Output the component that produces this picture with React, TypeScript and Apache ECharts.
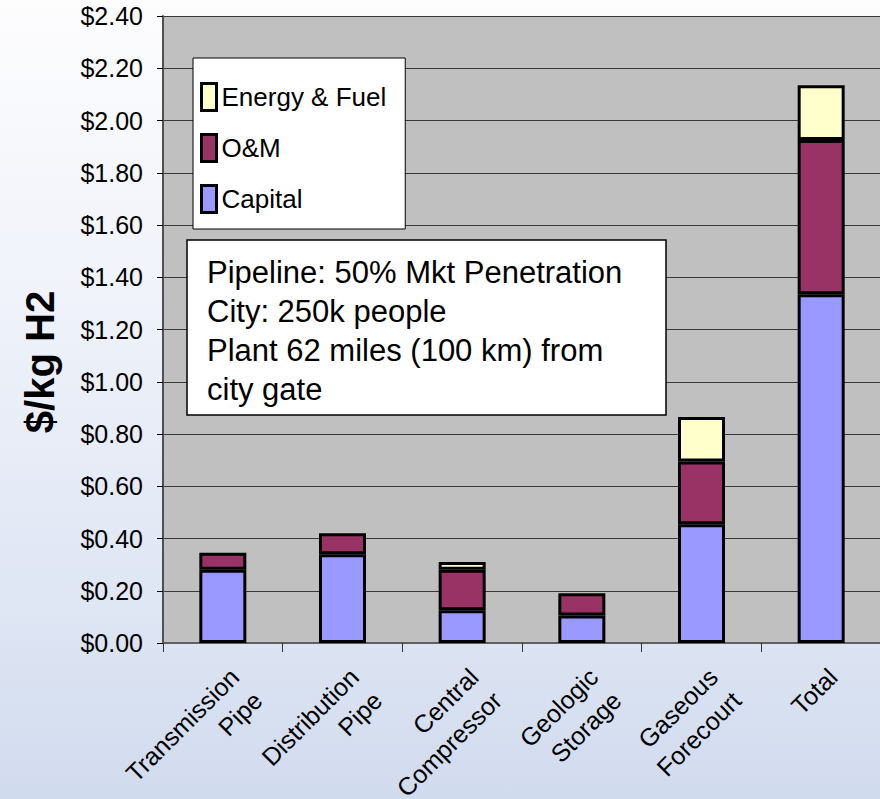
import React, { useEffect, useRef } from "react";
import * as echarts from "echarts";

const categories = [
  "Transmission\nPipe",
  "Distribution\nPipe",
  "Central\nCompressor",
  "Geologic\nStorage",
  "Gaseous\nForecourt",
  "Total",
];
const capital: (number | null)[] = [0.28, 0.34, 0.125, 0.105, 0.455, 1.335];
const om: (number | null)[] = [0.065, 0.08, 0.155, 0.085, 0.24, 0.59];
const energy: (number | null)[] = [null, null, 0.03, null, 0.17, 0.21];
const seriesNames = ["Capital", "O&M", "Energy & Fuel"];
const noteLines = [
  "Pipeline: 50% Mkt Penetration",
  "City: 250k people",
  "Plant 62 miles (100 km) from",
  "city gate",
];
const yTitle = "$/kg H2";

const FONT = "'Liberation Sans', Arial, Helvetica, sans-serif";

export default function App() {
  const ref = useRef<HTMLDivElement>(null);
  useEffect(() => {
    document.body.style.margin = "0";
    const chart = echarts.init(ref.current!, null, { renderer: "svg" });
    const barStyle = (color: string) => ({
      color,
      borderColor: "#000",
      borderWidth: 3,
    });
    const option: any = {
      animation: false,
      backgroundColor: {
        type: "linear",
        x: 0,
        y: 0,
        x2: 0,
        y2: 1,
        colorStops: [
          { offset: 0, color: "#fdfdfe" },
          { offset: 0.35, color: "#f0f3fa" },
          { offset: 0.75, color: "#dfe6f4" },
          { offset: 1, color: "#d1dbee" },
        ],
      },
      grid: {
        left: 163,
        right: -1,
        top: 16,
        bottom: 156,
        show: true,
        backgroundColor: "#c0c0c0",
        borderWidth: 0,
        containLabel: false,
        outerBoundsMode: "none",
      },
      legend: {
        data: ["Energy & Fuel", "O&M", "Capital"],
        orient: "vertical",
        left: 193,
        top: 58,
        width: 190,
        padding: [24, 19, 15, 7],
        itemWidth: 15,
        itemHeight: 27,
        itemGap: 21,
        icon: "rect",
        backgroundColor: "#ffffff",
        borderColor: "#000",
        borderWidth: 1,
        itemStyle: { borderColor: "#000", borderWidth: 3 },
        textStyle: { fontSize: 26, color: "#000", fontFamily: FONT, lineHeight: 27 },
        z: 50,
      },
      xAxis: {
        type: "category",
        data: categories,
        axisLine: { lineStyle: { color: "#606060", width: 2 } },
        axisTick: { show: true, length: 9, lineStyle: { color: "#333", width: 1 } },
        axisLabel: {
          rotate: 45,
          verticalAlign: "top",
          margin: 18,
          fontSize: 25,
          lineHeight: 33,
          color: "#000",
          fontFamily: FONT,
          interval: 0,
        },
      },
      yAxis: {
        type: "value",
        min: 0,
        max: 2.4,
        interval: 0.2,
        axisLine: { show: true, lineStyle: { color: "#505050", width: 2 } },
        axisTick: { show: true, length: 6, lineStyle: { color: "#000" } },
        axisLabel: {
          margin: 20,
          fontSize: 25,
          color: "#000",
          fontFamily: FONT,
          formatter: (v: number) => "$" + v.toFixed(2),
        },
        splitLine: { show: true, lineStyle: { color: "#3a3a3a", width: 1 } },
      },
      series: [
        {
          name: seriesNames[0],
          type: "bar",
          stack: "t",
          barWidth: 47,
          data: capital,
          itemStyle: barStyle("#9999ff"),
        },
        {
          name: seriesNames[1],
          type: "bar",
          stack: "t",
          barWidth: 47,
          data: om,
          itemStyle: barStyle("#993366"),
        },
        {
          name: seriesNames[2],
          type: "bar",
          stack: "t",
          barWidth: 47,
          data: energy,
          itemStyle: barStyle("#ffffcc"),
        },
      ],
      graphic: [
        {
          type: "rect",
          z: 100,
          shape: { x: 187, y: 240, width: 479, height: 175 },
          style: { fill: "#ffffff", stroke: "#000", lineWidth: 1.5 },
        },
        {
          type: "text",
          z: 101,
          x: 207,
          y: 253,
          style: {
            text: noteLines.join("\n"),
            font: `31px ${FONT}`,
            lineHeight: 39,
            fill: "#000",
            textAlign: "left",
            textVerticalAlign: "top",
          },
        },
        {
          type: "text",
          z: 101,
          x: 40,
          y: 362,
          rotation: Math.PI / 2,
          style: {
            text: yTitle,
            font: `bold 40px ${FONT}`,
            fill: "#000",
            textAlign: "center",
            textVerticalAlign: "middle",
          },
        },
      ],
    };
    chart.setOption(option);
    return () => chart.dispose();
  }, []);
  return (
    <div
      ref={ref}
      style={{ position: "absolute", left: 0, top: 0, width: 880, height: 799 }}
    />
  );
}
